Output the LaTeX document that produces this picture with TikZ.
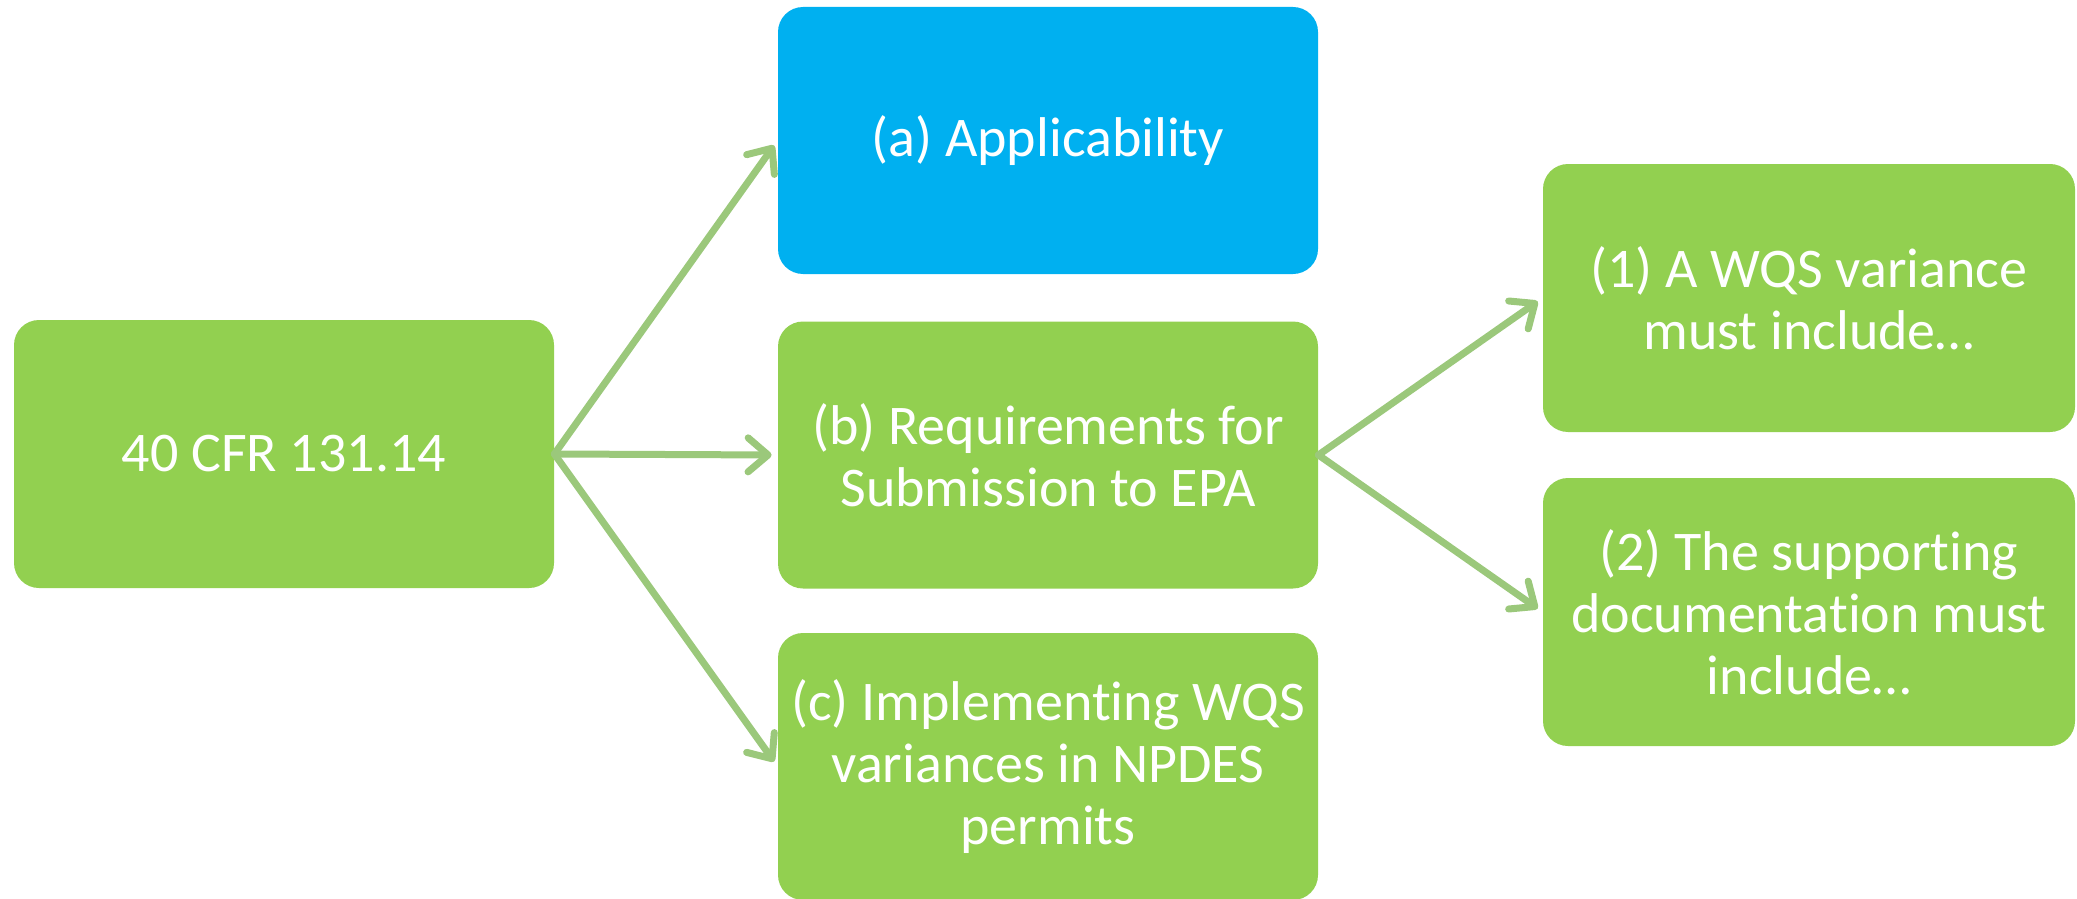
\documentclass[tikz,border=0pt]{standalone}
\usepackage{fontspec}
\setmainfont{Carlito}[Ligatures={NoCommon}]
\usetikzlibrary{arrows.meta}
\definecolor{boxgreen}{HTML}{92D050}
\definecolor{boxblue}{HTML}{00B0F0}
\definecolor{arrowgreen}{HTML}{9BC87B}
\tikzset{
  box/.style={rectangle, rounded corners=12.5pt, fill=boxgreen, draw=none,
    text=white, align=center, inner sep=0pt,
    font=\fontsize{28pt}{31pt}\selectfont},
  rootbox/.style={box, minimum width=270pt, minimum height=134pt},
  midbox/.style={box, minimum width=270pt, minimum height=133.5pt},
  rightbox/.style={box, minimum width=266pt, minimum height=134pt},
  conn/.style={draw=arrowgreen, line width=3.5pt, line cap=round,
    -{Straight Barb[length=10pt, width=17pt, line cap=round, line join=round]},
    shorten >=3pt}
}
\begin{document}
\begin{tikzpicture}[x=0.5pt, y=-0.5pt]
  \useasboundingbox (0,0) rectangle (2077,899);
  \node[rootbox] (root) at (284,454) {40 CFR 131.14};
  \node[midbox, fill=boxblue] (a) at (1048,140.5) {(a) Applicability};
  \node[midbox] (b) at (1048,455) {(b) Requirements for\\Submission to EPA};
  \node[midbox] (c) at (1048,766.5) {(c) Implementing WQS\\variances in NPDES\\permits};
  \node[rightbox] (one) at (1809,298) {(1) A WQS variance\\must include…};
  \node[rightbox] (two) at (1809,612) {(2) The supporting\\documentation must\\include…};
  \draw[conn] (root.east) -- (a.west);
  \draw[conn] (root.east) -- (b.west);
  \draw[conn] (root.east) -- (c.west);
  \draw[conn] (b.east) -- (one.west);
  \draw[conn] (b.east) -- (two.west);
\end{tikzpicture}
\end{document}
